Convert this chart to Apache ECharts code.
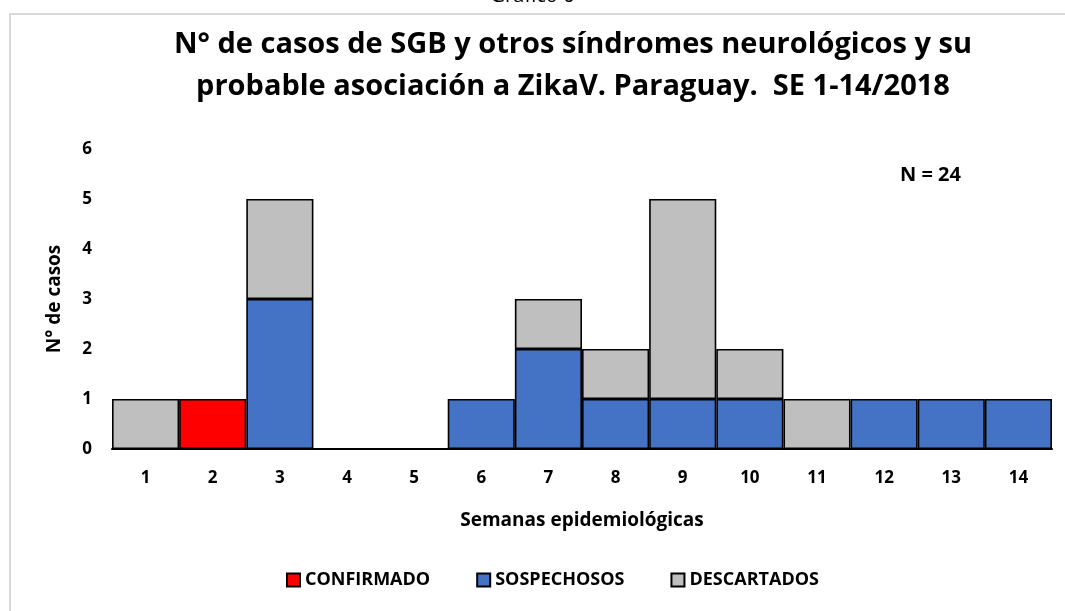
<!DOCTYPE html>
<html>
<head>
<meta charset="utf-8">
<script src="https://cdn.jsdelivr.net/npm/echarts@6/dist/echarts.min.js"></script>
<style>
    html, body { margin: 0; padding: 0; background: #fff; }
    #main { width: 1065px; height: 611px; }
</style>
</head>
<body>
<div id="main"></div>
<script>
// semanas epidemiologicas
const semanas = ['1', '2', '3', '4', '5', '6', '7', '8', '9', '10', '11', '12', '13', '14']
const confirmados = [0, 1, 0, 0, 0, 0, 0, 0, 0, 0, 0, 0, 0, 0]
const sospechosos = [0, 0, 3, 0, 0, 1, 2, 1, 1, 1, 0, 1, 1, 1]
const descartados = [1, 0, 2, 0, 0, 0, 1, 1, 4, 1, 1, 0, 0, 0]

const fuente = '"Open Sans", "Liberation Sans", sans-serif'

let chart = echarts.init(document.getElementById('main'))

// barras apiladas, sin espacio entre categorias
function serie (name, data, color) {
    return {
        name: name,
        type: 'bar',
        stack: 'total',
        barCategoryGap: 0,
        data: data.map(v => v === 0 ? null : v),
        itemStyle: { color: color, borderColor: '#000', borderWidth: 1.6 }
    }
}

let option = {
    animation: false,
    legend: {
        bottom: 17,
        left: 281,
        itemWidth: 13,
        itemHeight: 13,
        itemGap: 46,
        icon: 'rect',
        textStyle: { fontFamily: fuente, fontSize: 18, fontWeight: 'bold', color: '#000' },
        data: ['CONFIRMADO', 'SOSPECHOSOS', 'DESCARTADOS']
    },
    grid: { left: 112, right: 13, top: 149, bottom: 162 },
    xAxis: {
        type: 'category',
        data: semanas,
        name: 'Semanas epidemiológicas',
        nameLocation: 'middle',
        nameGap: 62,
        nameTextStyle: { fontFamily: fuente, fontSize: 19, fontWeight: 'bold', color: '#000' },
        axisLine: { lineStyle: { color: '#000', width: 2 } },
        axisTick: { show: false },
        axisLabel: { fontFamily: fuente, fontSize: 17, fontWeight: 'bold', color: '#000', margin: 21 }
    },
    yAxis: {
        type: 'value',
        min: 0,
        max: 6,
        interval: 1,
        name: 'N° de casos',
        nameLocation: 'middle',
        nameGap: 48,
        nameTextStyle: { fontFamily: fuente, fontSize: 19, fontWeight: 'bold', color: '#000' },
        splitLine: { show: false },
        axisLine: { show: false },
        axisLabel: { fontFamily: fuente, fontSize: 17, fontWeight: 'bold', color: '#000', margin: 20 }
    },
    series: [
        serie('CONFIRMADO', confirmados, '#ff0000'),
        serie('SOSPECHOSOS', sospechosos, '#4472c4'),
        serie('DESCARTADOS', descartados, '#bfbfbf')
    ],
    graphic: [
        {
            type: 'rect',
            shape: { x: 10, y: 14, width: 1070, height: 620 },
            style: { fill: null, stroke: '#d9d9d9', lineWidth: 2 },
            silent: true
        },
        {
            type: 'text',
            x: 573,
            y: 24,
            style: {
                text: 'N° de casos de SGB y otros síndromes neurológicos y su\nprobable asociación a ZikaV. Paraguay.  SE 1-14/2018',
                align: 'center',
                fontFamily: fuente, fontSize: 29, fontWeight: 'bold', fill: '#000', lineHeight: 42
            }
        },
        {
            type: 'text',
            left: 900,
            top: 165,
            style: { text: 'N = 24', fontFamily: fuente, fontSize: 20, fontWeight: 'bold', fill: '#000' }
        },
        {
            type: 'text',
            left: 'center',
            top: -14,
            style: { text: 'Gráfico 6', fontFamily: fuente, fontSize: 20, fill: '#000' }
        }
    ]
}

chart.setOption(option)
</script>
</body>
</html>
